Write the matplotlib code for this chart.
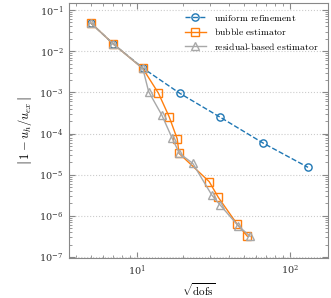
import matplotlib
matplotlib.use('Agg')
import matplotlib.pyplot as plt

plt.rcParams['mathtext.fontset'] = 'cm'
plt.rcParams['font.family'] = 'DejaVu Serif'

# data
uniform_x = [5, 7, 11, 19, 35, 67, 131]
uniform_err = [0.048, 0.0149, 0.0038, 9.5e-4, 2.48e-4, 5.8e-5, 1.51e-5]

bubble_x = [5, 7, 10.9, 13.8, 16.2, 18.3, 18.8, 29.6, 34.0, 45.2, 52.6]
bubble_err = [0.048, 0.0149, 0.0038, 9.5e-4, 2.56e-4, 7.4e-5, 3.3e-5,
              6.8e-6, 2.8e-6, 6.2e-7, 3.2e-7]

residual_x = [5, 7, 10.9, 11.9, 14.5, 16.9, 18.9, 23.1, 30.8, 34.9, 45.9, 54.8]
residual_err = [0.048, 0.0149, 0.0038, 1.04e-3, 2.82e-4, 7.9e-5, 3.3e-5,
                1.89e-5, 3.2e-6, 1.84e-6, 5.7e-7, 3.2e-7]

fig = plt.figure(figsize=(3.31, 2.98), dpi=100)
ax = fig.add_axes([0.2085, 0.134, 0.7825, 0.856])

ax.plot(uniform_x, uniform_err, linestyle='--', marker='o', color='#1f77b4',
        mfc='none', ms=5.2, mew=1.0, lw=1.0, label=r'$\mathrm{uniform\ refinement}$')
ax.plot(bubble_x, bubble_err, linestyle='-', marker='s', color='#ff7f0e',
        mfc='none', ms=5.5, mew=1.0, lw=1.0, label=r'$\mathrm{bubble\ estimator}$')
ax.plot(residual_x, residual_err, linestyle='-', marker='^', color='#a8a8a8',
        mfc='none', ms=5.2, mew=1.0, lw=1.0,
        label=r'$\mathrm{residual\text{-}based\ estimator}$')

ax.set_xscale('log')
ax.set_yscale('log')
ax.set_xlim(3.59, 177)
ax.set_ylim(9.46e-8, 0.148)

ax.grid(True, axis='y', which='major', linestyle=':', color='#cccccc', lw=0.8)
ax.tick_params(which='both', direction='in', top=True, right=True,
               color='#888888', labelsize=7, labelcolor='#333333', pad=4)
ax.tick_params(which='major', length=4)
ax.tick_params(which='minor', length=2)
for s in ax.spines.values():
    s.set_color('#888888')

ax.set_xlabel(r'$\sqrt{\mathrm{dofs}}$', fontsize=8, labelpad=2)
ax.set_ylabel(r'$\left|\,1 - u_h/u_{ex}\,\right|$', fontsize=9, labelpad=4)

ax.legend(loc='upper right', frameon=False, fontsize=7, handlelength=2.2,
          borderaxespad=0.6, labelspacing=0.35)

fig.savefig('out.png', dpi=100)
